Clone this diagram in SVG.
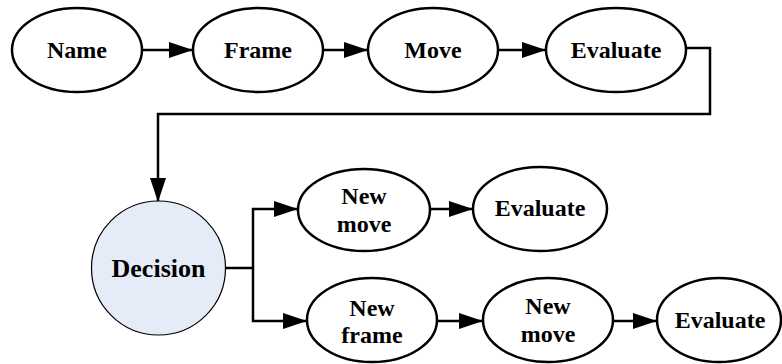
<svg xmlns="http://www.w3.org/2000/svg" width="782" height="364" viewBox="0 0 782 364">
<defs>
<marker id="ah" viewBox="0 0 24 16" refX="24" refY="8" markerWidth="24" markerHeight="16" markerUnits="userSpaceOnUse" orient="auto">
<path d="M0,0 L24,8 L0,16 Z" fill="#000"/>
</marker>
<style>
.n{fill:#fff;stroke:#000;stroke-width:2.5}
.d{fill:#e6ecf7;stroke:#000;stroke-width:1.2}
.t{font-family:"Liberation Serif","Times New Roman",serif;font-weight:bold;font-size:24px;text-anchor:middle;fill:#000}
.c{fill:none;stroke:#000;stroke-width:2.5;marker-end:url(#ah)}
.l{fill:none;stroke:#000;stroke-width:2.5}
</style>
</defs>
<g id="connectors">
<path class="c" d="M143,50 H193"/>
<path class="c" d="M323,50 H368"/>
<path class="c" d="M498,50 H546"/>
<path class="c" d="M686,48 H710 V114 H158 V202"/>
<path class="l" d="M226,268 H253"/>
<path class="c" d="M253,268 V209 H298"/>
<path class="c" d="M253,268 V321 H307"/>
<path class="c" d="M430,209 H473"/>
<path class="c" d="M437,321 H483"/>
<path class="c" d="M613,321 H657"/>
</g>
<g id="name"><ellipse class="n" cx="77" cy="50" rx="65" ry="42"/><text class="t" x="77" y="58">Name</text></g>
<g id="frame"><ellipse class="n" cx="258" cy="50" rx="65" ry="42"/><text class="t" x="258" y="58">Frame</text></g>
<g id="move"><ellipse class="n" cx="433" cy="50" rx="65" ry="42"/><text class="t" x="433" y="58">Move</text></g>
<g id="evaluate1"><ellipse class="n" cx="616" cy="50" rx="70" ry="42"/><text class="t" x="616" y="58">Evaluate</text></g>
<g id="decision"><circle class="d" cx="158.5" cy="268" r="67"/><text class="t" x="158.5" y="277" style="font-size:26px">Decision</text></g>
<g id="newmove1"><ellipse class="n" cx="364" cy="210" rx="66" ry="41"/><text class="t" x="364" y="204">New</text><text class="t" x="364" y="232">move</text></g>
<g id="evaluate2"><ellipse class="n" cx="540" cy="209" rx="67" ry="42"/><text class="t" x="540" y="216">Evaluate</text></g>
<g id="newframe"><ellipse class="n" cx="372" cy="320" rx="65" ry="42"/><text class="t" x="372" y="316">New</text><text class="t" x="372" y="343">frame</text></g>
<g id="newmove2"><ellipse class="n" cx="548" cy="320" rx="65" ry="42"/><text class="t" x="548" y="314">New</text><text class="t" x="548" y="342">move</text></g>
<g id="evaluate3"><ellipse class="n" cx="719" cy="320" rx="62" ry="42"/><text class="t" x="720" y="328">Evaluate</text></g>
</svg>
